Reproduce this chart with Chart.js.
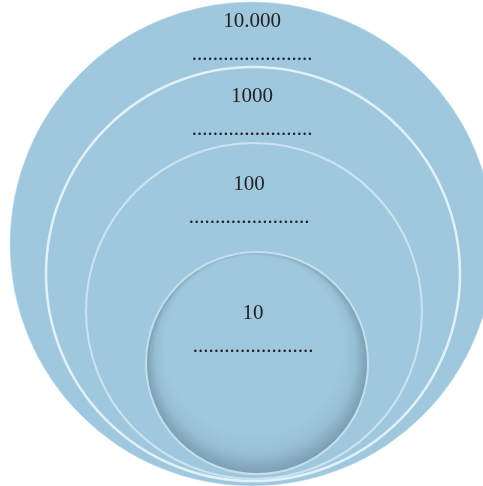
<!DOCTYPE html>
<html>
<head>
<meta charset="utf-8">
<script src="https://cdn.jsdelivr.net/npm/chart.js@4.4.1/dist/chart.umd.min.js"></script>
<style>
  html, body { margin: 0; padding: 0; background: #ffffff; }
  #wrap { width: 483px; height: 486px; position: relative; }
</style>
</head>
<body>
<div id="wrap"><canvas id="chart"></canvas></div>
<script>
// Levels, outermost first
const levelLabels = ['10.000', '1000', '100', '10'];
// circle centres and radii, in page units (x right, y down)
const circleX = [252, 253, 254, 257];
const circleY = [244, 274, 311, 363];
const circleR = [242, 207, 168, 111];

// ── STYLE ────────────────────────────────────────────────────
const FILL    = '#9fc8de';
const SHADE   = '#7a9db2';
const BORDERS = ['rgba(190,222,238,0.6)', '#e2f1f8', '#cbe3ef', '#c4dfec'];
const WIDTHS  = [1, 2.5, 2, 2];
const INK     = '#222222';

// text placement (layout, not data)
const LABEL_BASE = [27, 102, 190, 319];
const DOTS_BASE  = [60, 135, 223, 352];
const LABEL_CX   = [252, 252, 249, 253];

// innermost circle gets a soft bevel: shade thicker towards the bottom
function fillFor(ctx) {
  const chart = ctx.chart;
  const i = ctx.dataIndex;
  if (i !== 3 || !chart.chartArea) return FILL;
  const x = chart.scales.x.getPixelForValue(circleX[i]);
  const y = chart.scales.y.getPixelForValue(circleY[i]);
  const r = circleR[i];
  const g = chart.ctx.createRadialGradient(x - r * 0.03, y - r * 0.16, r * 0.8, x, y, r);
  g.addColorStop(0, FILL);
  g.addColorStop(0.5, '#97bfd4');
  g.addColorStop(1, SHADE);
  return g;
}

const labelPlugin = {
  id: 'levelLabels',
  afterDatasetsDraw(chart) {
    const c = chart.ctx;
    c.save();
    c.fillStyle = INK;
    c.textAlign = 'center';
    c.textBaseline = 'alphabetic';
    c.font = "21px 'Liberation Serif', 'Times New Roman', serif";
    levelLabels.forEach((lab, i) => {
      c.fillText(lab, LABEL_CX[i], LABEL_BASE[i]);
      c.fillText('.......................', LABEL_CX[i], DOTS_BASE[i]);
    });
    c.restore();
  }
};

new Chart(document.getElementById('chart'), {
  type: 'bubble',
  data: {
    labels: levelLabels,
    datasets: [{
      data: levelLabels.map((_, i) => ({ x: circleX[i], y: circleY[i], r: circleR[i] })),
      backgroundColor: fillFor,
      borderColor: BORDERS,
      borderWidth: WIDTHS,
      hoverRadius: 0,
      clip: false,
    }],
  },
  options: {
    responsive: true,
    maintainAspectRatio: false,
    animation: false,
    events: [],
    // bubbles would otherwise pad the chart area by their radius
    layout: { padding: 0, autoPadding: false },
    plugins: {
      legend:  { display: false },
      tooltip: { enabled: false },
    },
    scales: {
      x: { type: 'linear', min: 0, max: 483, display: false },
      y: { type: 'linear', min: 0, max: 486, reverse: true, display: false },
    },
  },
  plugins: [labelPlugin],
});
</script>
</body>
</html>
